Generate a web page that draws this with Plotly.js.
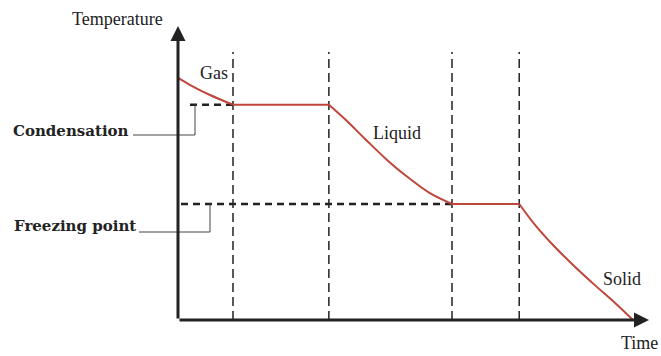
<!DOCTYPE html>
<html>
<head>
<meta charset="utf-8">
<script src="https://cdn.plot.ly/plotly-3.0.1.min.js"></script>
<style>html,body{margin:0;padding:0;background:#fff;}#chart{width:661px;height:356px;}</style>
</head>
<body>
<div id="chart"></div>
<script>
// ---- data (time and temperature, arbitrary units) ----
const time        = [0, 0.26, 0.68, 1.17, 3.21, 3.55, 3.98, 4.47, 4.94, 5.36, 5.83, 7.26, 7.60, 8.02, 8.45, 8.87, 9.30, 9.68];
const temperature = [8.26, 8.02, 7.68, 7.35, 7.35, 6.86, 6.18, 5.43, 4.81, 4.33, 3.96, 3.96, 3.24, 2.49, 1.81, 1.19, 0.58, 0];
const condensationTemp = 7.35;
const freezingTemp = 3.96;
const phaseLabels = ['Gas', 'Liquid', 'Solid'];
const axisLabels = ['Temperature', 'Time'];
const markerLabels = ['Condensation', 'Freezing point'];

// ---- layout geometry (pixel -> data helpers) ----
const W = 661, H = 356;
const X0 = 178, PX_T = 47;      // pixel of time 0, pixels per time unit
const Y0 = 320, PX_K = 29.3;    // pixel of temperature 0, pixels per temperature unit
const tx = px => (px - X0) / PX_T;
const ty = py => (Y0 - py) / PX_K;

// split curve into sloped (spline) and flat (linear) segments
const segs = [];
let start = 0;
for (let i = 1; i < time.length; i++) {
  const flat = temperature[i] === temperature[i - 1];
  const nextFlat = i + 1 < time.length ? temperature[i + 1] === temperature[i] : null;
  if (i === time.length - 1 || flat !== nextFlat) {
    segs.push([start, i]);
    start = i;
  }
}
const transitionTimes = [];
segs.forEach((s, k) => { if (k > 0) transitionTimes.push(time[s[0]]); });

const red = '#c0453a';
const traces = segs.map(s => ({
  x: time.slice(s[0], s[1] + 1),
  y: temperature.slice(s[0], s[1] + 1),
  type: 'scatter', mode: 'lines',
  line: {color: red, width: 2, shape: (s[1] - s[0] > 1 ? 'spline' : 'linear'), smoothing: 1},
  hoverinfo: 'skip', showlegend: false
}));

const ink = '#222';
const shapes = [];
transitionTimes.forEach(t => shapes.push({
  type: 'line', xref: 'x', yref: 'y', layer: 'below',
  x0: t, x1: t, y0: 0, y1: ty(52),
  line: {color: ink, width: 1.5, dash: '9px,5px'}
}));
// horizontal reference dashes
shapes.push({type: 'line', xref: 'x', yref: 'y', layer: 'below',
  x0: tx(190), x1: transitionTimes[0], y0: condensationTemp, y1: condensationTemp,
  line: {color: ink, width: 2.5, dash: '7px,5px'}});
shapes.push({type: 'line', xref: 'x', yref: 'y', layer: 'below',
  x0: tx(181), x1: transitionTimes[2], y0: freezingTemp, y1: freezingTemp,
  line: {color: ink, width: 2.5, dash: '7px,5px'}});
// leader lines
shapes.push({type: 'path', xref: 'x', yref: 'y', layer: 'below',
  path: `M${tx(133)},${ty(135)} L${tx(195)},${ty(135)} L${tx(195)},${condensationTemp}`,
  line: {color: '#444', width: 1}});
shapes.push({type: 'path', xref: 'x', yref: 'y', layer: 'below',
  path: `M${tx(139)},${ty(232)} L${tx(210)},${ty(232)} L${tx(210)},${freezingTemp}`,
  line: {color: '#444', width: 1}});

const serif = 'Liberation Serif';
const boldSerif = 'DejaVu Serif';
const txt = (text, px, py, size, anchor, family, weight) => ({
  text, x: tx(px), y: ty(py), xref: 'x', yref: 'y', showarrow: false,
  xanchor: anchor || 'center', yanchor: 'middle',
  font: {family: family || serif, size: size, color: ink, weight: weight || 'normal'}
});
const annotations = [
  // axes with arrowheads
  {x: tx(649), y: 0, ax: 0, ay: 0, xref: 'x', yref: 'y', axref: 'x', ayref: 'y',
   text: '', showarrow: true, arrowhead: 2, arrowsize: 1, arrowwidth: 3, arrowcolor: ink},
  {x: 0, y: ty(26), ax: 0, ay: 0, xref: 'x', yref: 'y', axref: 'x', ayref: 'y',
   text: '', showarrow: true, arrowhead: 2, arrowsize: 1, arrowwidth: 3, arrowcolor: ink},
  txt(axisLabels[0], 117, 19, 18),
  txt(axisLabels[1], 639, 343, 18),
  txt(phaseLabels[0], 214, 73, 18),
  txt(phaseLabels[1], 397, 133, 18),
  txt(phaseLabels[2], 622, 279, 18),
  txt(markerLabels[0], 131, 131, 15, 'right', boldSerif, 700),
  txt(markerLabels[1], 138, 226, 15, 'right', boldSerif, 700)
];

const layout = {
  width: W, height: H,
  margin: {l: 0, r: 0, t: 0, b: 0},
  paper_bgcolor: '#fff', plot_bgcolor: '#fff',
  xaxis: {range: [tx(0), tx(W)], visible: false, fixedrange: true},
  yaxis: {range: [ty(H), ty(0)], visible: false, fixedrange: true},
  shapes, annotations, showlegend: false
};
Plotly.newPlot('chart', traces, layout, {staticPlot: true, displayModeBar: false});
</script>
</body>
</html>
